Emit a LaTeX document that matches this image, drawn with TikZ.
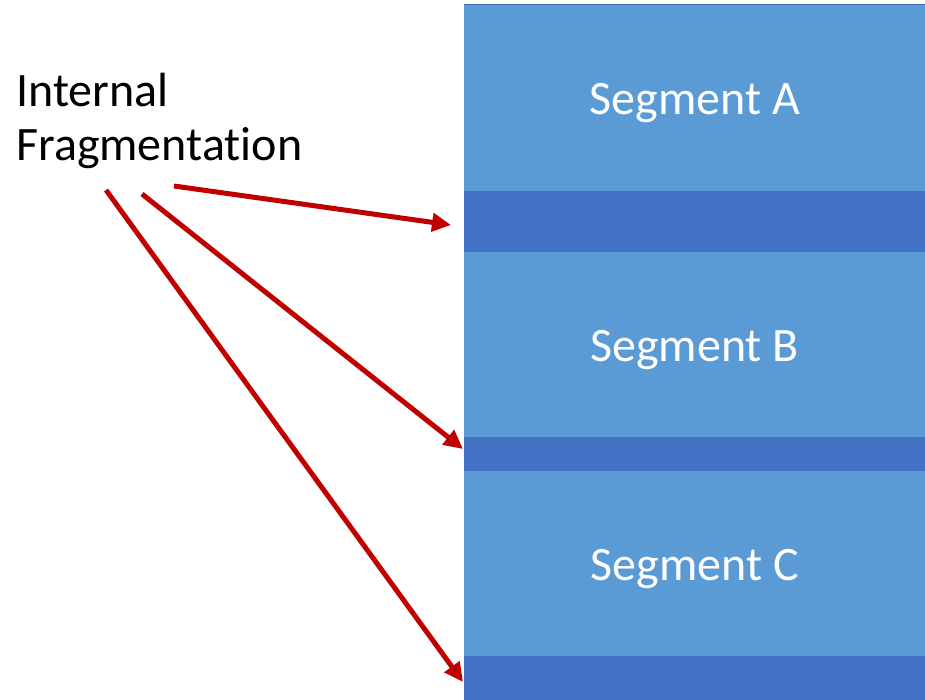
\documentclass[tikz,border=0pt]{standalone}
\usepackage{fontspec}
\setmainfont[RawFeature={-liga;-clig;-calt;-dlig}]{Carlito}
\usetikzlibrary{arrows.meta}
\definecolor{seglight}{HTML}{5B9BD5}
\definecolor{segdark}{HTML}{4472C4}
\definecolor{arrowred}{HTML}{C00000}
\newcommand{\segtext}[1]{\raisebox{-5pt}[\height][\depth]{#1}}
\begin{document}
\begin{tikzpicture}[x=1pt,y=-1pt,
  segment/.style={fill=seglight, draw=none, minimum width=461pt, inner sep=0pt,
    text=white, font=\fontsize{48}{54}\selectfont},
  gap/.style={fill=segdark, draw=none, minimum width=461pt, inner sep=0pt},
  pointer/.style={draw=arrowred, line width=5pt,
    -{Triangle[length=19pt,width=18pt]}}]
\useasboundingbox (0,0) rectangle (925,700);
% memory blocks
\node[segment, minimum height=186pt, anchor=north west] (A) at (464,5) {\segtext{Segment A}};
\node[gap, minimum height=61pt, anchor=north west] (gA) at (464,191) {};
\node[segment, minimum height=185pt, anchor=north west] (B) at (464,252) {\segtext{Segment B}};
\node[gap, minimum height=34pt, anchor=north west] (gB) at (464,437) {};
\node[segment, minimum height=185pt, anchor=north west] (C) at (464,471) {\segtext{Segment C}};
\node[gap, minimum height=44pt, anchor=north west] (gC) at (464,656) {};
\draw[segdark, line width=1pt] (A.north west) -- (A.north east);
% label
\node[anchor=north west, align=left, inner sep=0pt,
  font=\fontsize{48}{54}\selectfont] (lbl) at (16,73) {Internal\\Fragmentation};
% arrows to the unused parts
\coordinate (s1) at (174,186);
\coordinate (s2) at (142,194);
\coordinate (s3) at (106,190);
\coordinate (t1) at (451,225);
\coordinate (t2) at (463,449);
\coordinate (t3) at (463,682);
\draw[pointer] (s1) -- (t1);
\draw[pointer] (s2) -- (t2);
\draw[pointer] (s3) -- (t3);
\end{tikzpicture}
\end{document}
